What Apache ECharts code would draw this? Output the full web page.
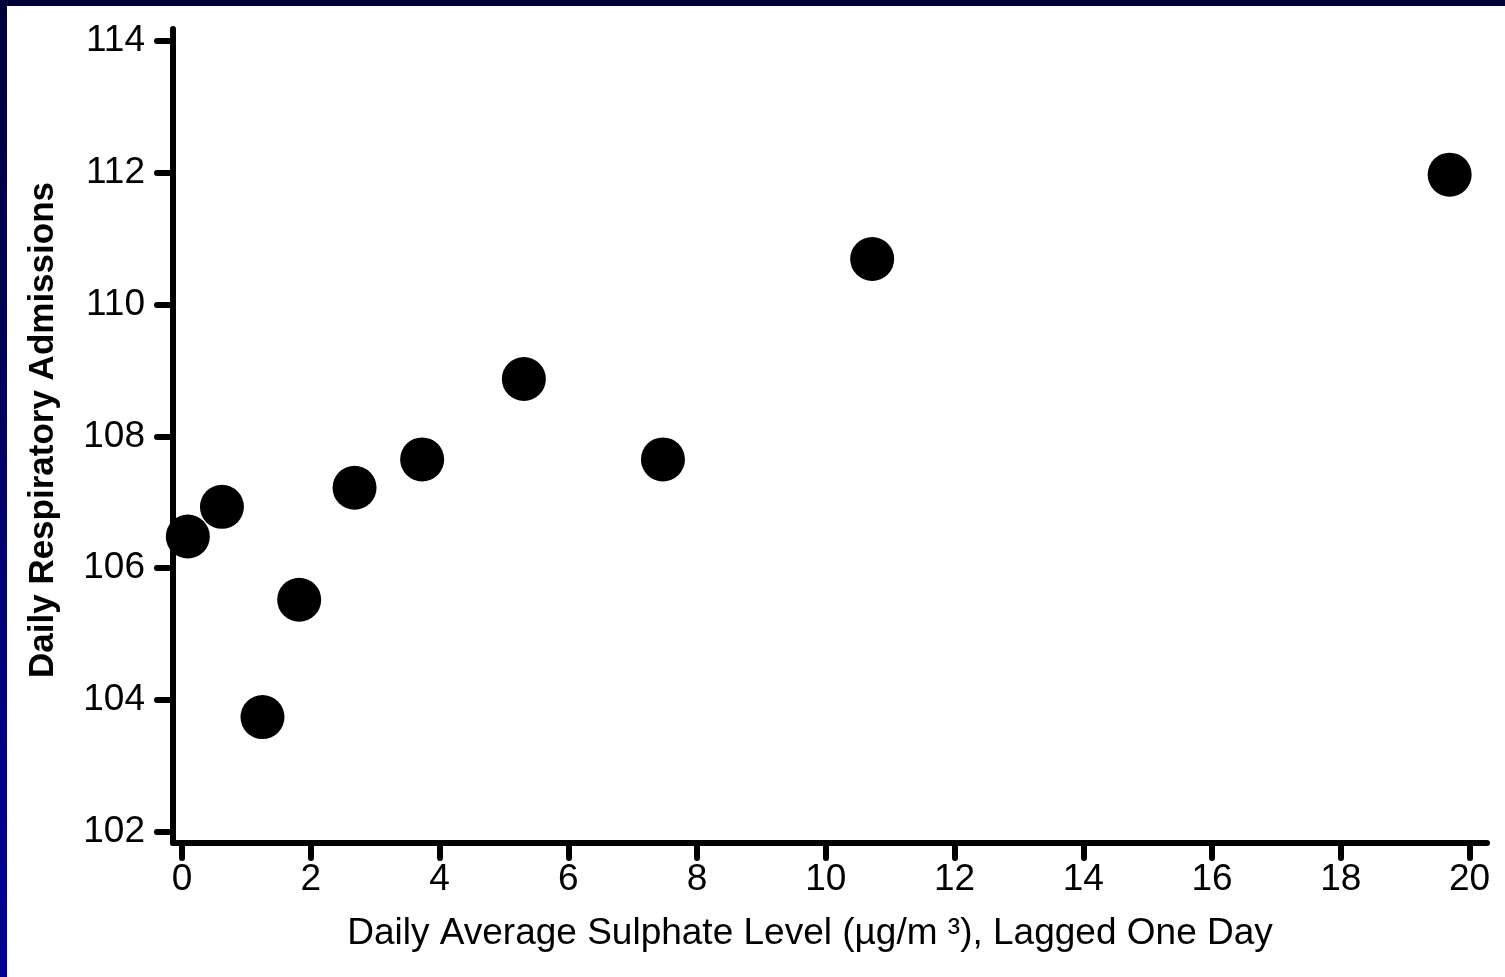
<!DOCTYPE html>
<html>
<head>
<meta charset="utf-8">
<script src="https://cdn.jsdelivr.net/npm/echarts@6/dist/echarts.min.js"></script>
<style>
html,body{margin:0;padding:0;background:#fff;}
#wrap{position:absolute;left:0;top:0;width:1505px;height:977px;background:#fff;}
#leftbar{position:absolute;left:0;top:0;width:7px;height:977px;background:linear-gradient(#000038,#000099);z-index:2;}
#topbar{position:absolute;left:0;top:0;width:1505px;height:6px;background:#000038;z-index:2;}
#chart{position:absolute;left:0;top:0;width:1505px;height:977px;}
</style>
</head>
<body>
<div id="wrap"><div id="chart"></div><div id="leftbar"></div><div id="topbar"></div></div>
<script>
// Data
const sulphate = [0.09, 0.62, 1.25, 1.82, 2.68, 3.73, 5.31, 7.47, 10.72, 19.69];
const admissions = [106.48, 106.93, 103.74, 105.52, 107.22, 107.65, 108.87, 107.65, 110.69, 111.97];
const xTicks = [0, 2, 4, 6, 8, 10, 12, 14, 16, 18, 20];
const yTicks = [102, 104, 106, 108, 110, 112, 114];
const xTitle = 'Daily Average Sulphate Level (µg/m ³), Lagged One Day';
const yTitle = 'Daily Respiratory Admissions';

const points = sulphate.map((x, i) => [x, admissions[i]]);
const chart = echarts.init(document.getElementById('chart'), null, {renderer: 'canvas'});
const axisStyle = {color: '#000', width: 6, cap: 'round'};
chart.setOption({
  backgroundColor: '#fff',
  animation: false,
  grid: {left: 173, right: 18, top: 29, bottom: 134},
  xAxis: {
    type: 'value', min: -0.14, max: 20.27,
    axisLine: {show: true, onZero: false, lineStyle: axisStyle},
    axisTick: {show: true, length: 15, customValues: xTicks, lineStyle: {color: '#000', width: 6, cap: 'round'}},
    axisLabel: {customValues: xTicks, margin: 18, fontFamily: 'Liberation Sans', fontSize: 37, color: '#000'},
    splitLine: {show: false},
    name: xTitle, nameLocation: 'middle', nameGap: 72,
    nameTextStyle: {fontFamily: 'Liberation Sans', fontSize: 37, color: '#000', padding: [0, 40, 0, 0]}
  },
  yAxis: {
    type: 'value', min: 101.83, max: 114.18,
    axisLine: {show: true, onZero: false, lineStyle: axisStyle},
    axisTick: {show: true, length: 16, customValues: yTicks, lineStyle: {color: '#000', width: 6, cap: 'round'}},
    axisLabel: {customValues: yTicks, margin: 28, fontFamily: 'Liberation Sans', fontSize: 37, color: '#000'},
    splitLine: {show: false},
    name: yTitle, nameLocation: 'middle', nameGap: 112, nameRotate: 90,
    nameTextStyle: {fontFamily: 'Liberation Sans', fontSize: 35, fontWeight: 'bold', color: '#000', padding: [0, 0, 0, 12]}
  },
  series: [{
    type: 'scatter',
    data: points,
    symbol: 'circle',
    symbolSize: 44,
    itemStyle: {color: '#000', opacity: 1}
  }]
});
</script>
</body>
</html>
